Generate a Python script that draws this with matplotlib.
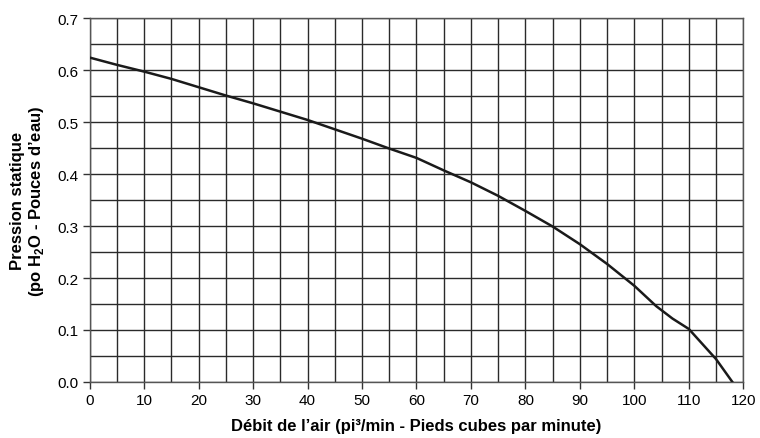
import numpy as np
import matplotlib
matplotlib.use("Agg")
import matplotlib.pyplot as plt

plt.rcParams['font.family'] = ['Liberation Sans', 'DejaVu Sans']
plt.rcParams['mathtext.fontset'] = 'custom'
plt.rcParams['mathtext.rm'] = 'Liberation Sans'
plt.rcParams['mathtext.bf'] = 'Liberation Sans:bold'

# Fan curve
airflow = [0, 5, 10, 15, 20, 25, 30, 35, 40, 45, 50, 55, 60, 65, 70, 75, 80,
           85, 90, 95, 100, 104, 107, 110, 115, 118]
pressure = [0.624, 0.61, 0.597, 0.583, 0.567, 0.551, 0.536, 0.52, 0.504, 0.486,
            0.468, 0.449, 0.431, 0.407, 0.384, 0.358, 0.329, 0.299, 0.265,
            0.227, 0.185, 0.146, 0.122, 0.102, 0.044, 0.0]

x_ticks = np.arange(0, 121, 10)
y_ticks = np.arange(0, 0.71, 0.1)

fig = plt.figure(figsize=(7.6, 4.39), dpi=100)
ax = fig.add_axes([0.118, 0.1276, 0.86, 0.829])

ax.set_xlim(0, 120)
ax.set_ylim(0, 0.7)
ax.set_xticks(x_ticks)
ax.set_xticks(np.arange(0, 121, 5), minor=True)
ax.set_yticks(y_ticks)
ax.set_yticks(np.arange(0, 0.71, 0.05), minor=True)
ax.set_yticklabels([f"{v:.1f}" for v in y_ticks])

ax.grid(True, which='both', color='#2a2a2a', linewidth=1.0)
ax.set_axisbelow(True)
for s in ax.spines.values():
    s.set_color('#555555')
    s.set_linewidth(1.0)

ax.tick_params(which='major', length=5, width=1, color='#333333',
               labelsize=11, pad=3)
ax.tick_params(which='minor', length=0)

ax.plot(airflow, pressure, color='#1a1a1a', linewidth=1.8, zorder=3)

ax.set_xlabel("Débit de l\u2019air (pi\u00b3/min - Pieds cubes par minute)",
              fontsize=12, fontweight='bold', labelpad=8)
ax.set_ylabel("Pression statique\n(po H$_\\mathbf{2}$O - Pouces d\u2019eau)",
              fontsize=12, fontweight='bold', labelpad=8)

fig.savefig("out.png", dpi=100)
